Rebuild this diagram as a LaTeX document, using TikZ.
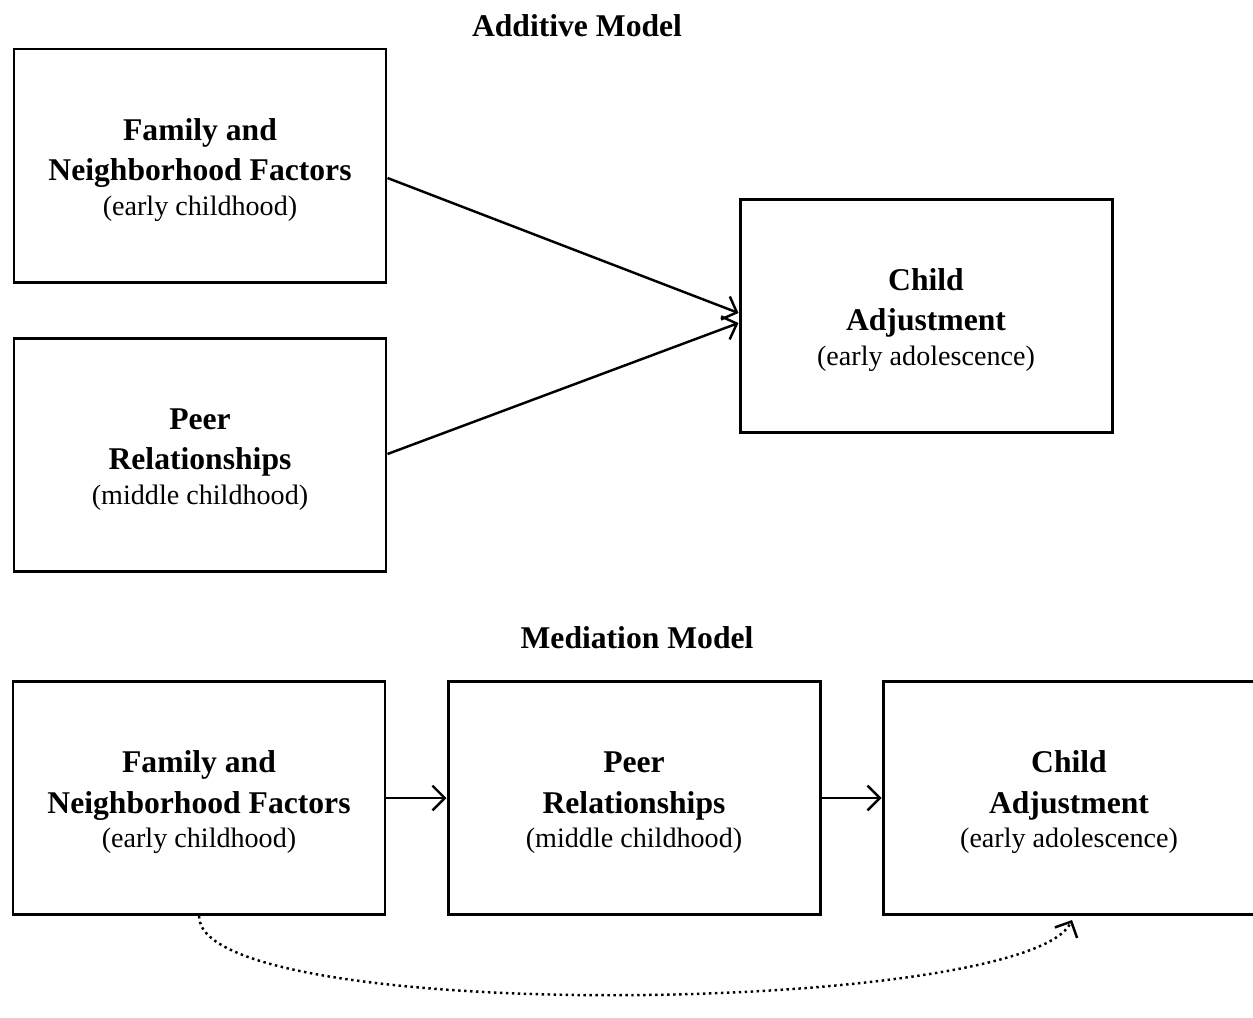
\documentclass[tikz,border=0pt]{standalone}
\usepackage{fontspec}
\setmainfont{Liberation Serif}
\usetikzlibrary{arrows.meta}

\newcommand\boxtext[3]{\raisebox{-2.5pt}[\height][\depth]{\begin{tabular}{@{}c@{}}\textbf{#1}\\\textbf{#2}\\[-3pt]{\fontsize{16}{19}\selectfont #3}\end{tabular}}}

\begin{document}
\begin{tikzpicture}[
    box/.style={draw,line width=1.7pt,minimum width=7.44cm,minimum height=4.66cm,
                inner sep=0pt,font=\fontsize{18}{22.8}\selectfont},
    link/.style={line width=1.4pt,-{Straight Barb[length=7pt,width=14pt,line width=1.4pt]}},
    title/.style={font=\fontsize{18}{22}\selectfont\bfseries}]
\useasboundingbox (0,0) rectangle (25.06,-20.34);

\node [title] (addtitle) at (11.54,-0.52) {Additive Model};
\node [box] (family1) at ( 4.00,-3.31) {\boxtext{Family and}{Neighborhood Factors}{(early childhood)}};
\node [box] (peer1)   at ( 4.00,-9.09) {\boxtext{Peer}{Relationships}{(middle childhood)}};
\node [box] (child1)  at (18.52,-6.31) {\boxtext{Child}{Adjustment}{(early adolescence)}};

\node [title] (medtitle) at (12.74,-12.76) {Mediation Model};
\node [box] (family2) at ( 3.98,-15.96) {\boxtext{Family and}{Neighborhood Factors}{(early childhood)}};
\node [box] (peer2)   at (12.68,-15.96) {\boxtext{Peer}{Relationships}{(middle childhood)}};
\node [box] (child2)  at (21.38,-15.96) {\boxtext{Child}{Adjustment}{(early adolescence)}};

\draw[link] ([yshift=-.25cm]family1.east) -- ([yshift= .05cm]child1.west);
\draw[link] ([yshift= .01cm]peer1.east)   -- ([yshift=-.15cm]child1.west);
\draw[link] (family2.east) -- (peer2.west);
\draw[link] (peer2.east)   -- (child2.west);
\draw[line width=1.4pt,dotted,-{Straight Barb[length=7pt,width=14pt,line width=1.4pt]}]
    (family2.south) .. controls +(0,-2.2) and +(-0.9,-1.9) .. ([xshift=.06cm,yshift=-.08cm]child2.south);
\end{tikzpicture}
\end{document}
